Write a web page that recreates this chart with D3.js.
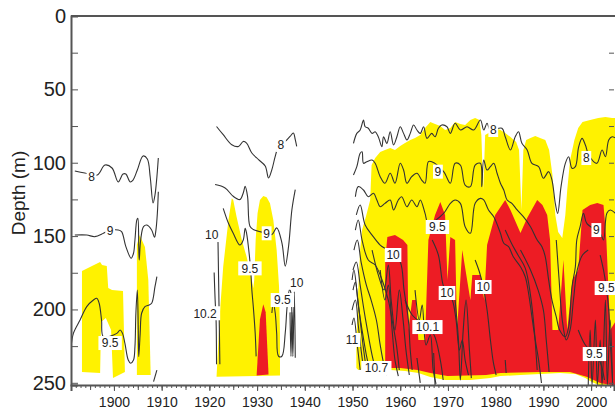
<!DOCTYPE html>
<html>
<head>
<meta charset="utf-8">
<script src="https://cdn.jsdelivr.net/npm/d3@7"></script>
<style>
  body { margin: 0; background: #fff; }
  svg { display: block; font-family: "Liberation Sans", Arial, sans-serif; }
</style>
</head>
<body>
<div id="chart"></div>
<script>
// Temperature section: isotherm depths, [year, depth m]

// ---- 1893-1909 ----
const yellow1900a = [[1893.3,173.8],[1895.4,170.4],[1897.1,167.7],[1897.5,169.7],[1898.5,170.4],[1898.8,185.4],
  [1899.6,186.8],[1901.9,187.4],[1902.3,242.6],[1899.8,246.7],[1899.4,214.0],[1898.3,205.8],[1897.3,208.6],
  [1897.1,243.3],[1893.3,242.6]];
const yellow1900b = [[1904.8,244.7],[1904.8,156.1],[1905.4,149.3],[1906.5,157.5],[1907.2,180.0],[1907.7,244.7]];
const iso8_1900 = [[1891.8,105.6],[1893.9,107.0],[1896.5,108.4],[1898.1,101.6],[1899.6,103.6],[1900.9,113.1],
  [1901.9,107.7],[1902.5,107.7],[1903.4,113.1],[1904.0,111.8],[1904.9,105.0],[1906.1,95.4],[1907.0,97.5],
  [1907.6,109.7],[1908.2,127.5],[1908.6,122.0],[1909.0,109.7],[1909.3,96.8]];
const iso9_1900 = [[1891.8,149.3],[1894.3,149.3],[1896.0,150.4],[1897.8,148.1],[1898.8,146.5],[1900.9,145.9],
  [1901.6,147.0],[1902.5,157.2],[1903.6,165.1],[1904.1,161.7],[1904.4,152.7],[1904.8,139.0],[1905.0,137.9],
  [1905.2,157.2],[1905.3,166.3],[1905.6,152.7],[1906.2,143.6],[1906.9,142.5],[1907.9,145.9],[1908.5,150.8],
  [1908.8,145.9],[1909.1,134.5],[1909.3,119.8]];
const iso95_1900 = [[1891.0,226.3],[1891.5,216.3],[1892.9,207.2],[1894.3,198.1],[1895.7,193.6],[1896.4,192.4],
  [1896.9,195.8],[1897.4,207.2],[1897.8,218.6],[1900.6,216.3],[1901.3,214.0],[1901.8,216.3],[1902.3,223.1],
  [1903.0,234.5],[1903.5,236.7],[1904.1,234.5],[1904.4,225.4],[1904.6,202.6],[1904.9,186.8],[1905.1,214.0],
  [1905.2,232.2],[1905.5,216.3],[1905.8,202.6],[1906.5,198.1],[1907.2,197.2],[1907.9,195.8],[1908.6,184.5],
  [1909.0,177.7]];
const stub_1900 = [[1908.3,249.2],[1909.0,241.3]];

// ---- 1921-1938 ----
const yellow1920 = [[1921.5,245.8],[1922.2,202.6],[1922.9,170.8],[1924.0,139.0],[1924.7,124.3],[1925.0,125.4],
  [1925.7,136.8],[1926.8,152.7],[1927.8,164.1],[1928.9,179.9],[1929.2,185.6],[1929.4,179.9],[1929.7,152.7],
  [1930.1,134.5],[1930.6,125.4],[1931.3,122.7],[1932.0,123.6],[1932.7,127.7],[1933.4,139.0],[1934.1,159.5],
  [1934.6,184.5],[1934.8,216.3],[1934.8,245.0]];
const red1920 = [[1929.9,245.0],[1930.6,206.7],[1931.3,196.5],[1931.8,202.0],[1932.4,244.3]];
const iso8_1920 = [[1921.5,75.3],[1922.9,80.9],[1924.7,87.7],[1926.1,88.9],[1927.1,85.5],[1927.8,86.6],
  [1928.9,93.4],[1930.3,97.9],[1931.7,102.2],[1932.4,110.4],[1933.1,104.7],[1933.8,95.7],[1934.5,88.9],
  [1935.9,85.5],[1936.9,82.1],[1937.6,79.8],[1938.0,84.3],[1938.3,88.9]];
const iso9_1920 = [[1921.2,114.9],[1923.3,117.2],[1925.0,122.9],[1926.4,125.1],[1927.1,120.6],[1927.5,116.1],
  [1928.0,122.9],[1928.5,143.3],[1929.2,145.5],[1931.7,147.8],[1933.1,148.9],[1934.1,144.4],[1935.2,154.6],
  [1935.9,170.5],[1936.6,156.9],[1937.3,131.9],[1938.0,118.3]];
const iso95_1920a = [[1922.9,131.1],[1924.0,141.3],[1925.0,148.1],[1926.4,156.1],[1927.1,152.7],[1927.5,144.7],
  [1927.8,148.1],[1928.4,163.9],[1928.7,175.2],[1928.9,186.6],[1929.2,197.9],[1929.6,216.1],[1929.8,232.0]];
const iso95_1920b = [[1933.1,202.4],[1933.4,195.6],[1933.8,202.4],[1934.1,216.0],[1934.5,231.9],[1935.2,231.9],
  [1935.9,216.0],[1936.3,197.9],[1936.8,186.5],[1937.1,188.8],[1937.3,202.4],[1937.6,216.0]];
const iso10_1920a = [[1921.8,152.3],[1922.0,193.1],[1922.2,237.3]];
const iso10_1920b = [[1921.0,174.8],[1921.2,193.1],[1921.4,206.7],[1921.5,237.3]];
const iso10_1920c = [[1936.9,202],[1937.1,232],[1937.3,202],[1937.5,232],[1937.8,188],[1938.0,233]];

// ---- 1950-2005 ----
const yellowTop1950 = [[1950.8,224.2],[1951.2,186.8],[1951.6,159.5],[1952.0,145.9],[1952.9,135.6],[1953.7,125.4],
  [1954.0,101.6],[1954.75,96.8],[1955.8,92.7],[1956.8,91.3],[1957.9,90.0],[1958.9,91.3],[1960.0,88.6],
  [1961.0,86.6],[1962.1,84.5],[1963.1,83.2],[1964.2,81.1],[1965.2,76.3],[1966.3,72.3],[1967.3,73.6],
  [1968.4,75.0],[1969.4,77.7],[1970.5,76.3],[1971.5,72.3],[1972.6,73.6],[1973.6,74.3],[1974.7,70.9],
  [1975.7,69.5],[1976.6,70.9],[1977.0,81.1],[1977.4,118.6],[1977.8,81.1],[1978.9,79.1],[1979.9,76.3],
  [1981.0,77.7],[1982.0,79.7],[1983.1,82.5],[1984.3,85.9],[1984.9,91.3],[1985.4,132.2],[1985.8,91.3],
  [1986.4,84.5],[1987.3,83.2],[1988.3,81.8],[1989.3,83.2],[1990.4,84.5],[1991.2,91.3],[1991.9,108.4],
  [1992.5,135.6],[1993.1,147.2],[1993.96,151.3],[1994.6,135.6],[1995.0,118.6],[1995.6,98.2],[1996.5,84.5],
  [1997.3,76.3],[1998.2,72.3],[1999.8,70.9],[2001.5,69.5],[2003.0,68.8],[2004.4,69.5],[2005.3,69.5]];
const yellowBase1950 = [[2005.3,253.6],[2003.0,252.9],[2001.5,251.5],[1999.8,248.8],[1998.8,246.7],[1996.7,244.0],
  [1993.5,243.3],[1989.3,244.0],[1985.2,244.7],[1981.0,245.4],[1978.9,246.7],[1974.7,248.1],[1969.4,248.1],
  [1966.3,246.1],[1963.8,243.3],[1961.0,241.9],[1957.9,241.3],[1954.75,240.6],[1952.6,240.6],[1951.2,241.3],
  [1950.8,239.9]];
const redTop1950 = [[1956.85,166.3],[1957.3,150.6],[1958.9,149.3],[1960.6,152.7],[1961.5,156.1],[1961.7,214.0],
  [1962.5,193.6],[1963.3,193.6],[1963.8,220.8],[1965.2,220.8],[1965.9,152.7],[1967.3,135.6],[1968.4,126.8],
  [1969.4,135.6],[1969.9,179.9],[1970.5,150.6],[1971.5,152.7],[1971.9,214.0],[1973.0,159.5],[1974.7,193.6],
  [1975.1,176.5],[1976.8,176.5],[1977.6,193.6],[1978.2,156.1],[1979.9,135.6],[1982.0,125.4],[1983.1,132.2],
  [1985.2,147.9],[1986.6,137.7],[1988.7,125.4],[1989.8,128.8],[1990.8,135.6],[1991.4,152.7],[1991.9,214.0],
  [1993.1,214.0],[1994.2,166.3],[1995.0,214.0],[1996.1,179.9],[1997.3,173.1],[1998.2,132.2],[1999.8,128.8],
  [2001.3,127.5],[2002.6,128.8],[2003.2,152.7],[2004.0,214.0],[2005.3,207.2]];
const redBase1950 = [[2005.3,252.2],[2001.9,250.1],[1999.2,246.1],[1995.6,242.6],[1989.3,242.6],[1981.0,243.3],
  [1978.0,244.7],[1969.9,245.4],[1966.3,243.3],[1963.6,241.3],[1960.0,239.9],[1956.85,239.9]];

const iso8_1950 = [[1950.2,86.8],[1950.9,80.0],[1951.6,77.7],[1952.3,70.9],[1952.65,75.5],[1953.3,76.5],
  [1954.1,80.0],[1954.75,78.9],[1955.4,82.3],[1956.15,89.1],[1956.5,82.3],[1957.2,86.8],[1957.9,78.9],
  [1958.6,87.9],[1959.3,82.3],[1960.0,75.5],[1960.7,80.0],[1961.4,84.5],[1962.1,80.0],[1962.8,74.3],
  [1963.5,77.7],[1964.2,80.0],[1964.9,75.5],[1965.6,83.4],[1966.6,80.0],[1967.3,82.3],[1968.0,76.5],
  [1968.7,74.3],[1969.8,75.5],[1970.5,80.0],[1971.5,73.1],[1972.6,77.7],[1974.0,75.5],[1975.4,77.7],
  [1976.8,70.9],[1977.5,77.7],[1978.2,73.1],[1978.9,77.7],[1981.3,76.5],[1982.0,82.3],[1983.1,91.3],
  [1984.1,82.3],[1984.8,78.9],[1985.5,86.8],[1986.6,91.3],[1987.6,100.4],[1989.0,102.7],[1990.0,110.6],
  [1991.1,106.1],[1991.8,111.8],[1992.5,127.7],[1993.0,134.5],[1993.7,116.3],[1994.6,100.4],[1995.3,95.9],
  [1996.0,103.8],[1996.7,102.7],[1997.4,89.1],[1998.1,83.4],[1998.8,87.9],[1999.5,94.7],[2001.2,100.4],
  [2002.3,91.3],[2003.0,95.9],[2003.7,84.5],[2004.4,82.3],[2005.0,83.0]];
const iso9_1950 = [[1950.2,108.4],[1950.9,102.7],[1951.6,93.6],[1952.0,92.5],[1952.3,100.4],[1953.0,99.3],
  [1954.1,98.2],[1954.75,100.4],[1955.8,109.5],[1956.8,114.0],[1957.9,107.2],[1958.9,114.0],[1960.0,100.4],
  [1960.7,105.0],[1961.4,114.0],[1962.4,109.5],[1963.5,107.2],[1964.5,111.8],[1965.2,114.0],[1965.9,99.3],
  [1966.6,99.3],[1969.1,106.1],[1970.5,114.0],[1971.5,100.4],[1972.6,101.6],[1973.6,115.2],[1974.7,116.3],
  [1975.7,101.6],[1976.8,100.4],[1977.1,116.3],[1977.5,98.2],[1978.2,105.0],[1978.9,102.7],[1979.6,100.4],
  [1980.3,107.2],[1981.0,114.0],[1981.7,118.6],[1982.4,125.4],[1983.4,127.7],[1984.5,132.2],[1985.8,136.8],
  [1987.3,143.6],[1988.7,152.7],[1989.7,157.2],[1990.4,164.1],[1991.1,179.9],[1991.8,193.6],[1992.7,205.0],
  [1993.4,214.0],[1994.6,218.6],[1995.3,211.8],[1996.0,184.5],[1996.7,170.9],[1997.0,152.7],[1997.7,143.6],
  [1998.4,134.5],[1999.1,141.3],[2001.9,148.1],[2002.6,152.7],[2003.3,134.5],[2004.0,132.2],[2005.1,134.5]];
const iso95_1950 = [[1950.6,123.2],[1951.2,116.3],[1952.3,118.6],[1953.3,123.2],[1954.4,120.8],[1955.1,125.4],
  [1955.8,130.0],[1956.8,127.7],[1957.9,125.4],[1958.6,132.2],[1959.6,125.4],[1960.3,123.2],[1961.4,130.0],
  [1962.4,125.4],[1963.5,130.0],[1964.2,125.4],[1965.2,134.5],[1965.9,141.3],[1969.1,134.5],[1970.5,127.7],
  [1971.5,125.4],[1972.6,127.7],[1973.6,143.6],[1974.7,148.1],[1975.7,127.7],[1976.8,124.3],[1977.5,125.4],
  [1978.5,132.2],[1979.6,136.8],[1981.0,148.1],[1981.7,154.9],[1982.7,157.2],[1983.7,164.1],[1985.2,170.9],
  [1986.2,177.7],[1986.9,189.0],[1987.6,205.0],[1988.3,220.8],[1989.0,234.5],[1989.6,250.1]];
const iso10_1950a = [[1950.8,135.6],[1951.6,128.8],[1952.65,142.5],[1954.1,149.3],[1955.8,156.1],[1957.3,159.5],
  [1958.5,162.9],[1960.0,167.7],[1960.8,186.8],[1961.7,207.2],[1962.1,227.7],[1962.5,241.3]];
const iso10_1950b = [[1950.6,145.9],[1951.2,139.0],[1952.0,152.7],[1953.3,166.3],[1954.75,169.7],[1956.2,179.9],
  [1957.5,193.6],[1958.3,207.2],[1959.2,224.2],[1959.8,241.3]];
const iso10_1950c = [[1950.3,159.5],[1951.0,152.7],[1951.8,167.7],[1952.9,183.4],[1953.9,193.6],[1955.0,207.2],
  [1955.8,224.2],[1956.6,237.9],[1957.3,244.7]];
const iso10_1950d = [[1950.1,173.1],[1950.8,167.7],[1951.6,183.4],[1952.4,200.4],[1953.3,217.4],[1954.1,231.1],
  [1954.75,239.9]];
const iso10_1950e = [[1950.1,186.8],[1950.6,181.3],[1951.2,197.0],[1952.0,214.0],[1952.9,231.1],[1953.7,242.6]];
const iso10_1950f = [[1949.9,200.4],[1950.6,193.6],[1951.2,210.6],[1951.8,227.7],[1952.4,242.6]];
const iso10_1950g = [[1949.9,179.9],[1950.3,173.1],[1951.0,190.2],[1951.6,207.2],[1952.2,224.2],[1952.9,241.3]];
const iso11_1950 = [[1949.9,210.6],[1950.3,205.8],[1951.0,224.2],[1951.6,241.3]];
const iso10_1955 = [[1954.1,159.5],[1955.4,176.5],[1956.6,186.8],[1957.5,169.7],[1958.1,193.6],[1958.9,214.0],
  [1959.8,186.8],[1960.6,207.2],[1961.2,227.7],[1961.9,244.7]];
const iso10_1956 = [[1955.8,173.1],[1956.8,193.6],[1957.5,183.4],[1958.3,214.0],[1958.9,234.5],[1959.6,245.4]];
const iso10_1963 = [[1963.1,186.8],[1964.0,207.2],[1964.6,197.0],[1965.4,224.2],[1966.3,217.4],[1966.9,241.3],
  [1967.5,250.8]];
const iso101_1962 = [[1961.0,193.6],[1962.5,203.8],[1964.2,208.5],[1965.7,212.0],[1967.1,217.4],[1968.4,234.5],
  [1969.0,248.1]];
const iso10_1968 = [[1966.7,152.7],[1968.0,163.0],[1969.0,183.4],[1969.9,188.8],[1970.9,193.6],[1971.7,207.2],
  [1972.4,227.7],[1973.0,220.8],[1973.6,234.5],[1974.3,244.7]];
const iso10_1971 = [[1971.5,193.6],[1972.2,220.8],[1972.6,248.1],[1973.2,214.0],[1973.8,193.6],[1974.5,227.7],
  [1974.9,246.8]];
const iso10_1977 = [[1975.7,166.3],[1976.6,174.5],[1977.4,184.7],[1978.2,200.4],[1978.9,220.8],[1979.5,235.8],
  [1980.1,244.7]];
const iso95_1984 = [[1982.0,145.9],[1983.5,156.1],[1984.7,163.0],[1986.2,171.8],[1987.3,190.2],[1988.1,214.0],
  [1988.7,241.3]];
const iso10_1987 = [[1985.2,159.5],[1987.3,173.1],[1988.9,186.8],[1990.0,200.4],[1990.6,220.8],[1991.2,242.6]];
const iso95_1994 = [[1992.7,152.7],[1993.3,179.9],[1993.96,207.2],[1994.8,220.8],[1995.6,214.0],[1996.3,193.6],
  [1997.1,173.1],[1998.2,162.9],[1999.4,159.5]];
const iso95_2003 = [[2001.9,162.9],[2002.6,173.1],[2003.2,185.4],[2003.7,200.4],[2004.0,220.8],[2004.5,248.1]];
const iso95_2000 = [[1997.3,214.0],[1998.8,224.2],[2000.7,230.4],[2001.9,235.8],[2002.8,248.1]];
const iso10_2001 = [[1999.4,251.5],[1999.8,214.0],[2000.2,251.5],[2000.9,207.2],[2001.3,251.5],[2001.9,220.8],
  [2002.3,251.5],[2003.0,193.6],[2003.4,251.5],[2004.0,207.2],[2004.5,251.5]];
const stubs1960 = [[[1963.5,233.1],[1964.2,250.1]], [[1967.0,229.7],[1967.3,251.5]], [[1982.0,234.5],[1982.2,243.3]]];

const contourLabels = [
  ["8",1895.3,109.5],["9",1899.2,146.5],["9.5",1899.2,222.9],
  ["8",1935.0,87.9],["9",1932.0,148.1],["9.5",1928.5,172.0],["9.5",1935.3,193.6],
  ["10",1920.5,149.3],["10.2",1919.1,202.6],["10",1938.3,181.8],
  ["8",1979.5,77.7],["8",1999.0,96.8],["9",1967.9,106.1],["9",2001.1,145.9],
  ["9.5",1967.8,143.8],["9.5",2003.2,185.4],["9.5",2000.7,230.4],
  ["10",1958.5,162.9],["10",1969.8,188.8],["10",1977.4,184.7],["10.1",1965.7,212.0],
  ["10.7",1955.0,239.9],["11",1949.9,220.8]
];

const yTicks = [0, 25, 50, 75, 100, 125, 150, 175, 200, 225, 250];
const decades = [1900, 1910, 1920, 1930, 1940, 1950, 1960, 1970, 1980, 1990, 2000];

// ---- drawing ----
const W = 615, H = 410;
const x = d3.scaleLinear().domain([1891, 2004.8]).range([71, 614]);
const y = d3.scaleLinear().domain([0, 251.5]).range([16, 385]);

const svg = d3.select("#chart").append("svg").attr("width", W).attr("height", H);

svg.append("clipPath").attr("id", "plot")
  .append("rect").attr("x", 71).attr("y", 16).attr("width", W - 71).attr("height", 369);

const plot = svg.append("g").attr("clip-path", "url(#plot)");

const poly = d3.line().x(d => x(d[0])).y(d => y(d[1]));
const smooth = d3.line().x(d => x(d[0])).y(d => y(d[1])).curve(d3.curveCatmullRom.alpha(0.5));

const yellow = "#fff200", red = "#ed1c24";

[yellow1900a, yellow1900b, yellow1920].forEach(p =>
  plot.append("path").attr("d", poly(p) + "Z").attr("fill", yellow));
plot.append("path").attr("d", poly(yellowTop1950.concat(yellowBase1950)) + "Z").attr("fill", yellow);
plot.append("path").attr("d", poly(red1920) + "Z").attr("fill", red);
plot.append("path").attr("d", poly(redTop1950.concat(redBase1950)) + "Z").attr("fill", red);

const lines = [iso8_1900, iso9_1900, iso95_1900, stub_1900,
  iso8_1920, iso9_1920, iso95_1920a, iso95_1920b, iso10_1920a, iso10_1920b, iso10_1920c,
  iso8_1950, iso9_1950, iso95_1950, iso10_1950a, iso10_1950b, iso10_1950c, iso10_1950d, iso10_1950e,
  iso10_1950f, iso10_1950g, iso11_1950, iso10_1955, iso10_1956, iso10_1963, iso101_1962, iso10_1968,
  iso10_1971, iso10_1977, iso95_1984, iso10_1987, iso95_1994, iso95_2003, iso95_2000, iso10_2001, ...stubs1960];

plot.selectAll("path.iso").data(lines).join("path")
  .attr("class", "iso")
  .attr("d", smooth)
  .attr("fill", "none")
  .attr("stroke", "#333")
  .attr("stroke-width", 1.1);

// contour labels with white boxes
const lab = plot.selectAll("g.lab").data(contourLabels).join("g")
  .attr("class", "lab")
  .attr("transform", d => `translate(${x(d[1])},${y(d[2])})`);
lab.append("rect")
  .attr("x", d => -d[0].length * 3.4 - 1.5)
  .attr("y", -7)
  .attr("width", d => d[0].length * 6.8 + 3)
  .attr("height", 14)
  .attr("fill", "#fff");
lab.append("text")
  .attr("text-anchor", "middle")
  .attr("dy", "0.36em")
  .attr("font-size", 12)
  .attr("fill", "#222")
  .text(d => d[0]);

// frame
svg.append("line").attr("x1", 71).attr("x2", W).attr("y1", 16).attr("y2", 16)
  .attr("stroke", "#555").attr("stroke-width", 2);
svg.append("g").attr("transform", `translate(${W - 1},0)`)
  .call(d3.axisRight(y).tickValues(yTicks).tickSize(-5).tickFormat(""))
  .call(g => g.select(".domain").remove())
  .call(g => g.selectAll("line").attr("stroke", "#555"));

// y axis
const yAxis = svg.append("g").attr("transform", "translate(71,0)")
  .call(d3.axisLeft(y).tickValues(yTicks).tickSize(-7).tickPadding(12)
    .tickFormat(d => d % 50 === 0 ? d : ""));
yAxis.select(".domain").attr("stroke", "#555").attr("stroke-width", 2);
yAxis.selectAll("line").attr("stroke", "#555");
yAxis.selectAll("text").attr("font-size", 20).attr("fill", "#222")
  .attr("font-family", "Liberation Sans, Arial, sans-serif").attr("x", -5);

// x axis: yearly, 5-year and decade ticks
const years = d3.range(1892, 2005);
svg.append("g").attr("transform", "translate(0,385)")
  .call(d3.axisBottom(x).tickValues(years).tickSize(3).tickFormat(""))
  .call(g => g.select(".domain").remove())
  .call(g => g.selectAll("line").attr("stroke", "#555"));
svg.append("g").attr("transform", "translate(0,385)")
  .call(d3.axisBottom(x).tickValues(years.filter(v => v % 5 === 0)).tickSize(5).tickFormat(""))
  .call(g => g.select(".domain").remove())
  .call(g => g.selectAll("line").attr("stroke", "#555"));
const xAxis = svg.append("g").attr("transform", "translate(0,385)")
  .call(d3.axisBottom(x).tickValues(decades).tickSize(6).tickPadding(6).tickFormat(d3.format("d")));
xAxis.select(".domain").attr("stroke", "#555").attr("stroke-width", 2);
xAxis.selectAll("line").attr("stroke", "#555");
xAxis.selectAll("text").attr("font-size", 14).attr("fill", "#222")
  .attr("font-family", "Liberation Sans, Arial, sans-serif");

svg.append("text")
  .attr("transform", "translate(25,193) rotate(-90)")
  .attr("text-anchor", "middle")
  .attr("font-size", 19)
  .attr("fill", "#222")
  .text("Depth (m)");
</script>
</body>
</html>
